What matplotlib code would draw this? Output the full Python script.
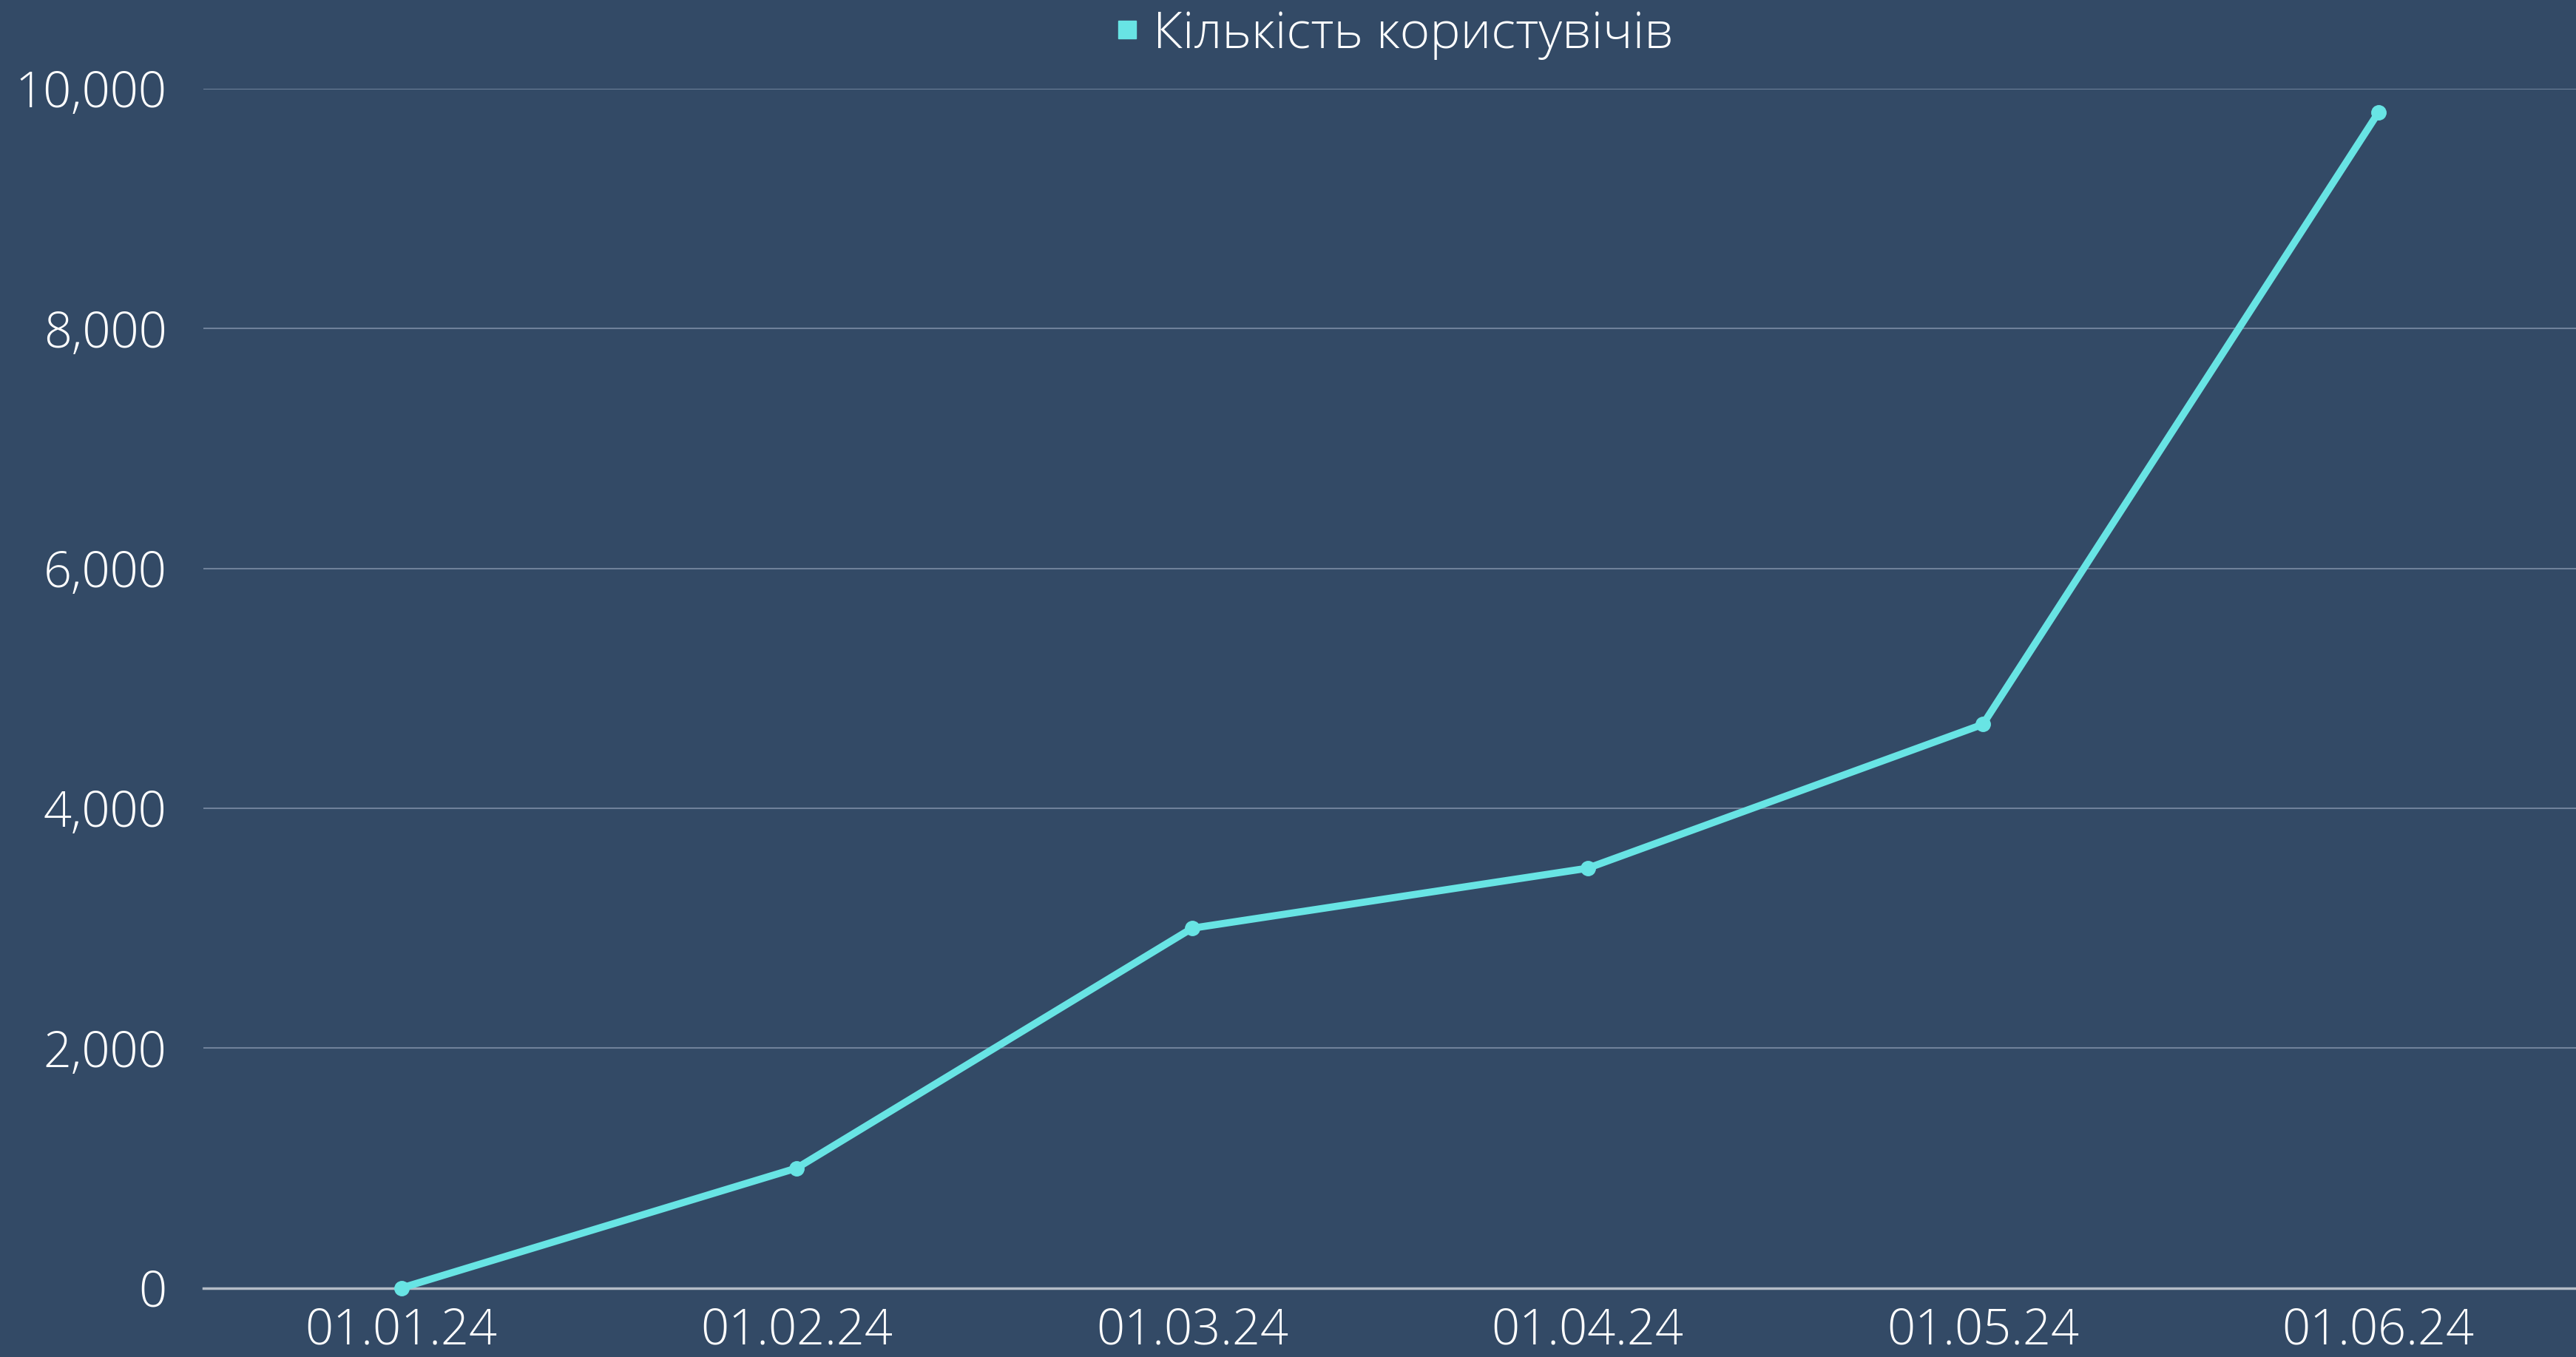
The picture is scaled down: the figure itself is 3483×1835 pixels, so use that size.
import matplotlib

matplotlib.use("Agg")
import matplotlib.pyplot as plt
from matplotlib.ticker import FuncFormatter

# data
dates = ["01.01.24", "01.02.24", "01.03.24", "01.04.24", "01.05.24", "01.06.24"]
users = [0, 1000, 3000, 3500, 4700, 9800]
series_name = "Кількість користувічів"
y_ticks = [0, 2000, 4000, 6000, 8000, 10000]

BG = "#334a66"
LINE = "#68e4e4"
GRID = "#6f819a"
ZERO = "#b4bcc6"
TEXT = "#ffffff"

plt.rcParams["font.family"] = ["Open Sans", "DejaVu Sans"]

fig = plt.figure(figsize=(34.83, 18.35), dpi=100, facecolor=BG)
ax = fig.add_axes([124 / 1568, 42 / 826, 1 - 124 / 1568, 730 / 826])
ax.set_facecolor(BG)

x = list(range(len(dates)))
ax.plot(x, users, color=LINE, linewidth=7, marker="o", markersize=14,
        label=series_name, zorder=3, clip_on=False)

ax.set_xlim(-0.5, len(dates) - 0.5)
ax.set_ylim(0, 10000)
ax.set_yticks(y_ticks)
ax.yaxis.set_major_formatter(FuncFormatter(lambda v, _: f"{v:,.0f}"))
ax.set_xticks(x)
ax.set_xticklabels(dates)

ax.grid(axis="y", color=GRID, linewidth=1.5)
ax.set_axisbelow(True)
for side in ["top", "right", "left"]:
    ax.spines[side].set_visible(False)
ax.spines["bottom"].set_color(ZERO)
ax.spines["bottom"].set_linewidth(2.5)

ax.tick_params(axis="both", length=0, colors=TEXT, labelsize=48)
ax.tick_params(axis="y", pad=36)
ax.tick_params(axis="x", pad=18)
for lbl in ax.get_xticklabels() + ax.get_yticklabels():
    lbl.set_fontweight("light")

handle = plt.Line2D([], [], color=LINE, marker="s", linestyle="none", markersize=17)
leg = fig.legend([handle], [series_name], loc="center",
                 bbox_to_anchor=((124 / 1568 + 1) / 2, 1 - 21 / 826),
                 frameon=False, fontsize=50, handletextpad=0.1,
                 handlelength=0.8, labelcolor=TEXT)
for t in leg.get_texts():
    t.set_fontweight("light")

fig.savefig("out.png", dpi=100, facecolor=BG)
plt.close(fig)
